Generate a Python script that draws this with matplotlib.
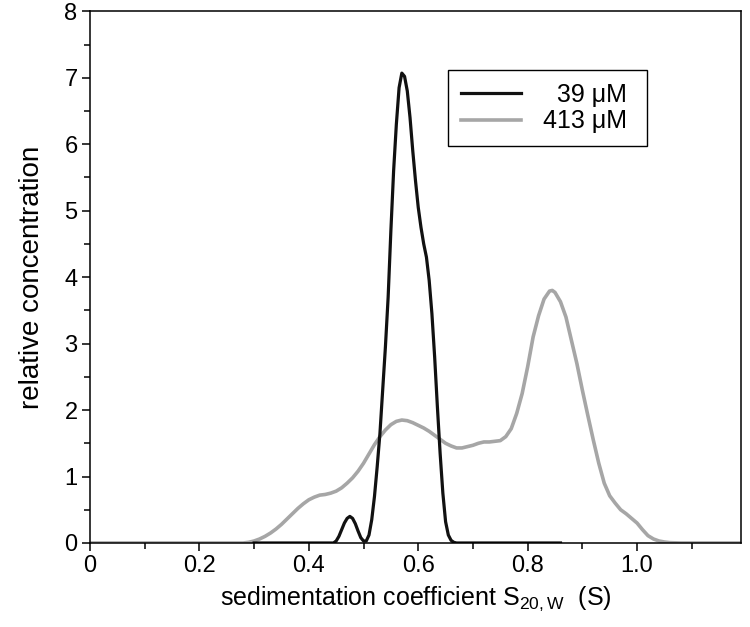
import matplotlib.pyplot as plt
from matplotlib.ticker import FixedLocator, FixedFormatter, MultipleLocator

plt.rcParams['font.family'] = ['Liberation Sans', 'DejaVu Sans']

# 39 uM trace (black)
s_39 = [0.30, 0.445, 0.45, 0.455, 0.46, 0.465, 0.47, 0.475, 0.48, 0.485,
        0.49, 0.495, 0.50, 0.505, 0.51, 0.515, 0.52, 0.525, 0.53, 0.535,
        0.54, 0.545, 0.55, 0.555, 0.56, 0.565, 0.57, 0.575, 0.58, 0.585,
        0.59, 0.595, 0.60, 0.605, 0.61, 0.615, 0.62, 0.625, 0.63, 0.635,
        0.64, 0.645, 0.65, 0.655, 0.66, 0.665, 0.67, 0.86]
c_39 = [0.0, 0.0, 0.03, 0.1, 0.2, 0.3, 0.37, 0.40, 0.37, 0.29,
        0.18, 0.08, 0.03, 0.03, 0.12, 0.35, 0.7, 1.15, 1.65, 2.3,
        2.95, 3.7, 4.7, 5.6, 6.3, 6.85, 7.07, 7.02, 6.8, 6.4,
        5.9, 5.45, 5.05, 4.75, 4.5, 4.3, 3.95, 3.45, 2.8, 2.05,
        1.35, 0.75, 0.32, 0.12, 0.04, 0.01, 0.0, 0.0]

# 413 uM trace (grey)
s_413 = [0.0, 0.28, 0.29, 0.30, 0.31, 0.32, 0.33, 0.34, 0.35, 0.36,
         0.37, 0.38, 0.39, 0.40, 0.41, 0.42, 0.43, 0.44, 0.45, 0.46,
         0.47, 0.48, 0.49, 0.50, 0.51, 0.52, 0.53, 0.54, 0.55, 0.56,
         0.57, 0.58, 0.59, 0.60, 0.61, 0.62, 0.63, 0.64, 0.65, 0.66,
         0.67, 0.68, 0.69, 0.70, 0.71, 0.72, 0.73, 0.74, 0.75, 0.76,
         0.77, 0.78, 0.79, 0.80, 0.81, 0.82, 0.83, 0.84, 0.845, 0.85,
         0.86, 0.87, 0.88, 0.89, 0.90, 0.91, 0.92, 0.93, 0.94, 0.95,
         0.96, 0.97, 0.98, 0.99, 1.00, 1.01, 1.02, 1.03, 1.04, 1.05,
         1.06, 1.08, 1.19]
c_413 = [0.0, 0.0, 0.01, 0.03, 0.06, 0.1, 0.15, 0.21, 0.28, 0.36,
         0.44, 0.52, 0.59, 0.65, 0.69, 0.72, 0.73, 0.75, 0.78, 0.83,
         0.9, 0.98, 1.08, 1.2, 1.34, 1.48, 1.6, 1.7, 1.78, 1.83,
         1.85, 1.84, 1.81, 1.77, 1.73, 1.68, 1.62, 1.56, 1.5, 1.46,
         1.43, 1.43, 1.45, 1.47, 1.5, 1.52, 1.52, 1.53, 1.54, 1.6,
         1.72, 1.95, 2.25, 2.65, 3.1, 3.42, 3.67, 3.79, 3.80, 3.77,
         3.63, 3.4, 3.05, 2.7, 2.3, 1.92, 1.55, 1.2, 0.9, 0.71,
         0.6, 0.5, 0.44, 0.37, 0.3, 0.2, 0.11, 0.06, 0.03, 0.015,
         0.005, 0.0, 0.0]

x_ticks = [0, 0.2, 0.4, 0.6, 0.8, 1.0]
x_labels = ['0', '0.2', '0.4', '0.6', '0.8', '1.0']

fig = plt.figure(figsize=(7.5, 6.27), dpi=100)
ax = fig.add_axes([0.12, 0.134, 0.868, 0.848])

ax.plot(s_413, c_413, color='#a6a6a6', lw=2.6, solid_joinstyle='round',
        label='413 \u03bcM ')
ax.plot(s_39, c_39, color='#111111', lw=2.3, solid_joinstyle='round',
        label='\u200739 \u03bcM ')

ax.set_xlim(0, 1.19)
ax.set_ylim(0, 8)

ax.xaxis.set_major_locator(FixedLocator(x_ticks))
ax.xaxis.set_major_formatter(FixedFormatter(x_labels))
ax.xaxis.set_minor_locator(MultipleLocator(0.1))
ax.yaxis.set_major_locator(MultipleLocator(1))
ax.yaxis.set_minor_locator(MultipleLocator(0.5))

ax.tick_params(which='both', direction='out', width=1.1, top=False, right=False)
ax.tick_params(which='major', length=6, labelsize=17, pad=3)
ax.tick_params(which='minor', length=4)
for sp in ax.spines.values():
    sp.set_linewidth(1.1)

ax.set_ylabel('relative concentration', fontsize=20, labelpad=14)
ax.set_xlabel(r'sedimentation coefficient S$_{\mathregular{20,W}}$  (S)',
              fontsize=18, labelpad=5)

h, l = ax.get_legend_handles_labels()
leg = ax.legend(h[::-1], l[::-1], loc='upper left', bbox_to_anchor=(0.55, 0.889),
                borderaxespad=0, fontsize=18, handlelength=2.4, handletextpad=0.9,
                borderpad=0.5, labelspacing=0.1, fancybox=False, edgecolor='black',
                framealpha=1)
leg.get_frame().set_linewidth(1.0)

fig.savefig('out.png', dpi=100)
